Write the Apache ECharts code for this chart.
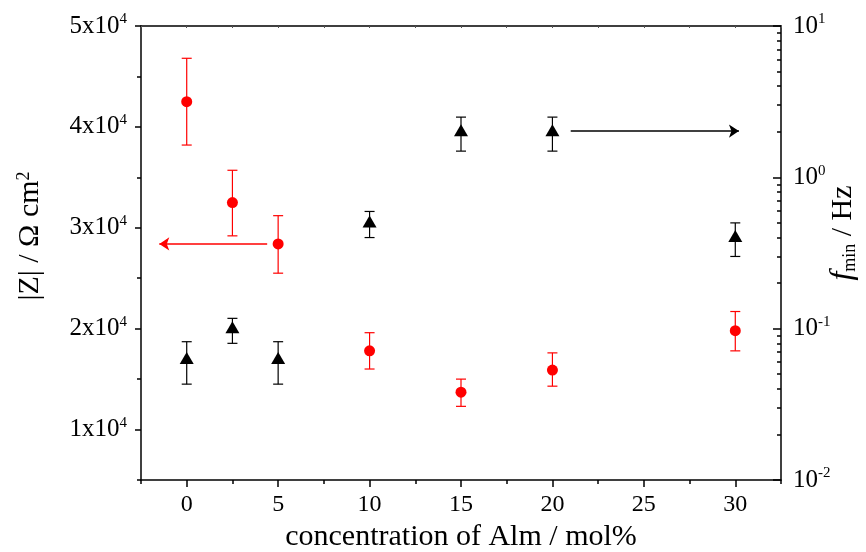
<!DOCTYPE html>
<html>
<head>
<meta charset="utf-8">
<script src="https://cdn.jsdelivr.net/npm/echarts@6/dist/echarts.min.js"></script>
<style>
html, body { margin: 0; padding: 0; background: #fff; }
#chart { width: 866px; height: 552px; }
</style>
</head>
<body>
<div id="chart"></div>
<script>
// data
const concentrations = [0, 2.5, 5, 10, 15, 20, 30];
const impedance     = [42500, 32500, 28400, 17800, 13700, 15900, 19800];
const impedanceLow  = [38200, 29200, 25500, 16000, 12300, 14300, 17800];
const impedanceHigh = [46800, 35700, 31200, 19600, 15000, 17600, 21700];
const fmin     = [0.064, 0.102, 0.064, 0.51, 2.05, 2.05, 0.41];
const fminLow  = [0.043, 0.080, 0.043, 0.40, 1.49, 1.49, 0.30];
const fminHigh = [0.082, 0.117, 0.082, 0.595, 2.5, 2.5, 0.50];

const xTicks = [0, 5, 10, 15, 20, 25, 30];
const xMinorTicks = [-2.5, 2.5, 7.5, 12.5, 17.5, 22.5, 27.5, 32.5];
const leftTicks = [10000, 20000, 30000, 40000, 50000];
const leftMinorTicks = [5000, 15000, 25000, 35000, 45000];
const rightTicks = [0.01, 0.1, 1, 10];

// arrows pointing at the axis each series belongs to
const redArrow = [[4.4, 28400], [-1.5, 28400]];
const blackArrow = [[21, 2.02], [30.2, 2.02]];

const font = 'Liberation Serif';
// minor ticks of the log axis, in log10 units (2..9 of each decade)
const logMinor = [];
for (let d = -2; d < 1; d++) {
  for (let k = 2; k <= 9; k++) logMinor.push(d + Math.log10(k));
}

function errorBar(color, yAxisIndex, low, high) {
  return {
    type: 'custom',
    xAxisIndex: 0,
    yAxisIndex: yAxisIndex,
    data: concentrations.map((c, i) => [c, low[i], high[i]]),
    encode: { x: 0, y: [1, 2] },
    renderItem(params, api) {
      const lo = api.coord([api.value(0), api.value(1)]);
      const hi = api.coord([api.value(0), api.value(2)]);
      const w = 5;
      const style = { stroke: color, lineWidth: 1.2 };
      return {
        type: 'group',
        children: [
          { type: 'line', shape: { x1: hi[0], y1: hi[1], x2: lo[0], y2: lo[1] }, style: style },
          { type: 'line', shape: { x1: hi[0] - w, y1: hi[1], x2: hi[0] + w, y2: hi[1] }, style: style },
          { type: 'line', shape: { x1: lo[0] - w, y1: lo[1], x2: lo[0] + w, y2: lo[1] }, style: style }
        ]
      };
    },
    z: 2
  };
}

const chart = echarts.init(document.getElementById('chart'));
const line = { show: true, onZero: false, lineStyle: { color: '#000', width: 1.5 } };
const noLine = { show: false, onZero: false };
const supRich = {
  b: { fontFamily: font, fontSize: 25, color: '#000', lineHeight: 28 },
  s: { fontFamily: font, fontSize: 15, color: '#000', verticalAlign: 'top', lineHeight: 15 }
};

chart.setOption({
  animation: false,
  backgroundColor: '#fff',
  grid: { left: 141, top: 26, right: 85, bottom: 72, containLabel: false, outerBoundsMode: 'none' },
  xAxis: [
    {
      type: 'value', min: -2.5, max: 32.5, position: 'bottom',
      axisLine: line,
      splitLine: { show: false },
      axisTick: { customValues: xTicks, length: 7, lineStyle: { color: '#000', width: 1.5 } },
      axisLabel: { customValues: xTicks, margin: 13, fontFamily: font, fontSize: 24, color: '#000' },
      name: 'concentration of Alm / mol%', nameLocation: 'middle', nameGap: 38,
      nameTextStyle: { fontFamily: font, fontSize: 30, color: '#000' }
    },
    {
      type: 'value', min: -2.5, max: 32.5, position: 'bottom',
      axisLine: noLine,
      splitLine: { show: false },
      axisTick: { customValues: xMinorTicks, length: 4, lineStyle: { color: '#000', width: 1.5 } },
      axisLabel: { show: false }
    },
    {
      type: 'value', min: -2.5, max: 32.5, position: 'top',
      axisLine: line,
      splitLine: { show: false },
      axisTick: { customValues: xTicks.concat(xMinorTicks), inside: true, length: 2, lineStyle: { color: '#555', width: 1 } },
      axisLabel: { show: false }
    }
  ],
  yAxis: [
    {
      type: 'value', min: 5000, max: 50000, position: 'left',
      axisLine: line,
      splitLine: { show: false },
      axisTick: { customValues: leftTicks, length: 6, lineStyle: { color: '#000', width: 1.5 } },
      axisLabel: {
        customValues: leftTicks, margin: 14,
        formatter: v => '{b|' + (v / 10000) + 'x10}{s|4}',
        rich: supRich
      },
      name: '|Z| / \u03a9 cm{s|2}', nameLocation: 'middle', nameGap: 96, nameRotate: 90,
      nameTextStyle: {
        fontFamily: font, fontSize: 30, color: '#000', padding: [0, 0, 0, 34],
        rich: { s: { fontFamily: font, fontSize: 18, color: '#000', verticalAlign: 'top', lineHeight: 18 } }
      }
    },
    {
      type: 'value', min: 5000, max: 50000, position: 'left',
      axisLine: noLine,
      splitLine: { show: false },
      axisTick: { customValues: leftMinorTicks, length: 4, lineStyle: { color: '#000', width: 1.5 } },
      axisLabel: { show: false }
    },
    {
      type: 'log', logBase: 10, min: 0.01, max: 10, position: 'right',
      axisLine: line,
      splitLine: { show: false },
      axisTick: { inside: true, length: 8, lineStyle: { color: '#000', width: 1.5 } },
      axisLabel: {
        margin: 12,
        formatter: v => '{b|10}{s|' + Math.round(Math.log10(v)) + '}',
        rich: supRich
      },
      name: '{i|f}{sub|min} / Hz', nameLocation: 'middle', nameGap: 46, nameRotate: 90,
      nameMoveOverlap: false,
      nameTextStyle: {
        fontFamily: font, fontSize: 30, color: '#000', padding: [0, 0, 0, 40],
        rich: {
          i: { fontFamily: font, fontSize: 32, fontStyle: 'italic', color: '#000' },
          sub: { fontFamily: font, fontSize: 18, color: '#000', verticalAlign: 'bottom', lineHeight: 18 }
        }
      }
    },
    {
      type: 'value', min: -2, max: 1, position: 'right',
      axisLine: noLine,
      splitLine: { show: false },
      axisTick: { customValues: logMinor, inside: true, length: 4, lineStyle: { color: '#000', width: 1.5 } },
      axisLabel: { show: false }
    }
  ],
  series: [
    errorBar('#ff0000', 0, impedanceLow, impedanceHigh),
    errorBar('#000000', 2, fminLow, fminHigh),
    {
      type: 'scatter', xAxisIndex: 0, yAxisIndex: 0,
      data: concentrations.map((c, i) => [c, impedance[i]]),
      symbol: 'circle', symbolSize: 11,
      itemStyle: { color: '#ff0000', opacity: 1 }, z: 3
    },
    {
      type: 'scatter', xAxisIndex: 0, yAxisIndex: 2,
      data: concentrations.map((c, i) => [c, fmin[i]]),
      symbol: 'triangle', symbolSize: [14, 12],
      itemStyle: { color: '#000', opacity: 1 }, z: 3
    },
    {
      type: 'lines', coordinateSystem: 'cartesian2d', xAxisIndex: 0, yAxisIndex: 0,
      symbol: ['none', 'arrow'], symbolSize: [8, 10],
      lineStyle: { color: '#ff0000', width: 1.5, opacity: 1 },
      data: [{ coords: redArrow }]
    },
    {
      type: 'lines', coordinateSystem: 'cartesian2d', xAxisIndex: 0, yAxisIndex: 2,
      symbol: ['none', 'arrow'], symbolSize: [8, 10],
      lineStyle: { color: '#000', width: 1.5, opacity: 1 },
      data: [{ coords: blackArrow }]
    }
  ]
});
</script>
</body>
</html>
